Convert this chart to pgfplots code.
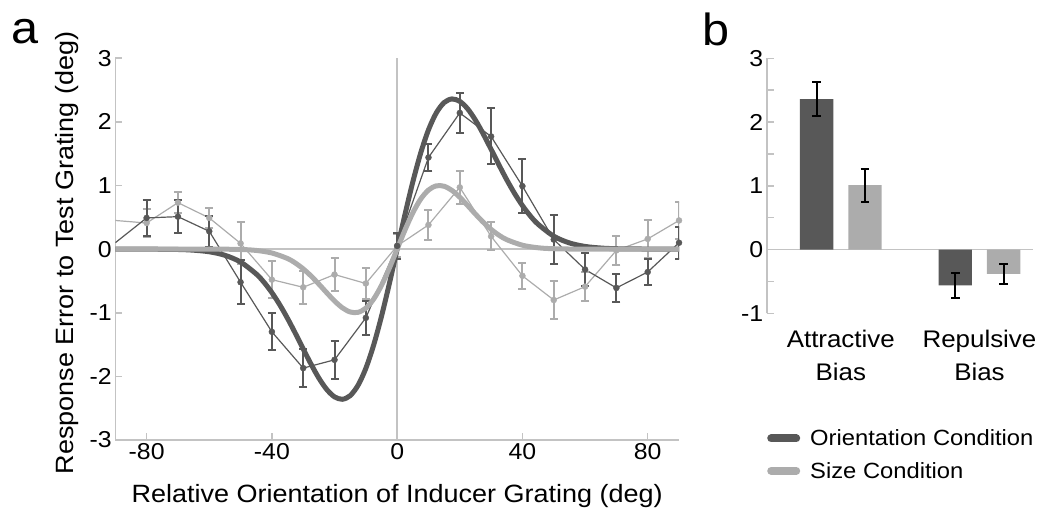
\documentclass[border=0pt]{standalone}
\usepackage{pgfplots}
\pgfplotsset{compat=1.18}
\usepackage{pgfplotstable}
\usepackage{fontspec}
\setmainfont{Liberation Sans}[FakeStretch=1.08]
\definecolor{ocol}{RGB}{88,88,88}
\definecolor{scol}{RGB}{172,172,172}
\definecolor{axgray}{RGB}{195,195,195}

% x = relative orientation (deg), y = response error (deg), e = s.e.m.
\pgfplotstableread{
x y e
-90 0.10 0.25
-80 0.49 0.28
-70 0.51 0.26
-60 0.28 0.24
-50 -0.52 0.35
-40 -1.30 0.29
-30 -1.87 0.30
-20 -1.74 0.30
-10 -1.08 0.27
0 0.05 0.21
10 1.44 0.21
20 2.14 0.31
30 1.77 0.44
40 0.99 0.42
50 0.15 0.38
60 -0.32 0.26
70 -0.61 0.22
80 -0.36 0.20
90 0.10 0.25
}\orient

\pgfplotstableread{
x y e
-90 0.45 0.29
-80 0.41 0.22
-70 0.73 0.17
-60 0.49 0.16
-50 0.09 0.33
-40 -0.48 0.29
-30 -0.60 0.26
-20 -0.40 0.26
-10 -0.54 0.24
0 0.05 0.18
10 0.38 0.24
20 0.97 0.26
30 0.20 0.22
40 -0.42 0.20
50 -0.80 0.30
60 -0.59 0.23
70 -0.02 0.23
80 0.16 0.30
90 0.45 0.29
}\size

\pgfplotsset{
  fnt/.style={font=\fontsize{23}{27}\selectfont},
  every axis/.append style={fnt, /pgf/number format/assume math mode=true},
}

\begin{document}
\begin{tikzpicture}[x=1pt,y=1pt]
\useasboundingbox (0,-508) rectangle (1039,0);

\node[font=\fontsize{45}{50}\selectfont] at (25,-32) {a};
\node[font=\fontsize{45}{50}\selectfont] at (716,-29) {b};

% panel a (also carries the shared legend, placed under panel b)
\begin{axis}[
    at={(115.3pt,-440pt)}, anchor=south west,
    scale only axis, width=563.7pt, height=381.8pt,
    xmin=-90, xmax=90, ymin=-3, ymax=3,
    axis lines=left,
    axis line style={-, draw=axgray, line width=1.6pt},
    tick align=inside, major tick length=7pt,
    tick style={draw=axgray, line width=1.6pt},
    xtick={-80,-40,0,40,80}, ytick={-3,-2,-1,0,1,2,3},
    xlabel={Relative Orientation of Inducer Grating (deg)},
    ylabel={Response Error to Test Grating (deg)},
    label style={font=\fontsize{25}{29}\selectfont},
    xlabel style={at={(axis description cs:0.5,-0.165)}, anchor=base},
    ylabel style={at={(axis description cs:-0.075,0.49)}, anchor=base},
    legend style={at={(axis description cs:1.1508,0.038)}, anchor=north west,
      draw=none, fill=none, font=\fontsize{22}{26}\selectfont, row sep=11pt},
    legend cell align=left,
    legend image code/.code={\draw[#1, line width=8pt, line cap=round] (4pt,0pt) -- (29pt,0pt);
      \path[draw=none, fill=none] (0pt,-4pt) rectangle (41pt,4pt);},
  ]
  \draw[axgray, line width=1.6pt] (axis cs:-90,0) -- (axis cs:90,0);
  \draw[axgray, line width=1.6pt] (axis cs:0,-3) -- (axis cs:0,3);

  \addplot[scol, line width=1.2pt, forget plot] table[x=x, y=y] {\size};
  \addplot[ocol, line width=1.2pt, forget plot] table[x=x, y=y] {\orient};
  \addplot[scol, draw=none, mark=*, mark size=3pt, skip coords between index={0}{1}, forget plot,
    error bars/.cd, y dir=both, y explicit,
    error bar style={scol, line width=2pt},
    error mark options={scol, rotate=90, mark size=4pt, line width=2pt}]
    table[x=x, y=y, y error=e] {\size};
  \addplot[ocol, draw=none, mark=*, mark size=3pt, skip coords between index={0}{1}, forget plot,
    error bars/.cd, y dir=both, y explicit,
    error bar style={ocol, line width=2pt},
    error mark options={ocol, rotate=90, mark size=4pt, line width=2pt}]
    table[x=x, y=y, y error=e] {\orient};

  % fitted derivative-of-Gaussian curves
  \addplot[ocol, line width=5pt, smooth, forget plot] coordinates {
    (-90,0) (-80,-0.001) (-70,-0.006) (-65,-0.017) (-60,-0.042) (-55,-0.097)
    (-50,-0.203) (-45,-0.391) (-42.5,-0.523) (-40,-0.684) (-37.5,-0.874)
    (-35,-1.089) (-32.5,-1.324) (-30,-1.568) (-27.5,-1.808) (-25,-2.027)
    (-22.5,-2.205) (-20,-2.322) (-17.5,-2.360) (-15,-2.303) (-12.5,-2.141)
    (-10,-1.874) (-7.5,-1.507) (-5,-1.056) (-2.5,-0.544) (0,0)
    (2.5,0.544) (5,1.056) (7.5,1.507) (10,1.874) (12.5,2.141) (15,2.303)
    (17.5,2.360) (20,2.322) (22.5,2.205) (25,2.027) (27.5,1.808) (30,1.568)
    (32.5,1.324) (35,1.089) (37.5,0.874) (40,0.684) (42.5,0.523) (45,0.391)
    (50,0.203) (55,0.097) (60,0.042) (65,0.017) (70,0.006) (80,0.001) (90,0)};
  \addplot[scol, line width=5pt, smooth, forget plot] coordinates {
    (-90,0) (-60,0) (-50,-0.006) (-45,-0.021) (-40,-0.061) (-35,-0.148)
    (-32.5,-0.219) (-30,-0.310) (-27.5,-0.422) (-25,-0.550) (-22.5,-0.685)
    (-20,-0.815) (-17.5,-0.922) (-15,-0.988) (-12.5,-0.994) (-10,-0.928)
    (-7.5,-0.785) (-5,-0.570) (-2.5,-0.300) (0,0)
    (2.5,0.300) (5,0.570) (7.5,0.785) (10,0.928) (12.5,0.994) (15,0.988)
    (17.5,0.922) (20,0.815) (22.5,0.685) (25,0.550) (27.5,0.422) (30,0.310)
    (32.5,0.219) (35,0.148) (40,0.061) (45,0.021) (50,0.006) (60,0) (90,0)};

  \addlegendimage{ocol}
  \addlegendentry{Orientation Condition}
  \addlegendimage{scol}
  \addlegendentry{Size Condition}
\end{axis}

% panel b
\begin{axis}[
    at={(766.7pt,-313.3pt)}, anchor=south west,
    scale only axis, width=266.3pt, height=255pt,
    xmin=0.466, xmax=2.386, ymin=-1, ymax=3,
    ybar=15pt, bar width=33.3pt,
    axis y line=left, axis x line=bottom,
    axis line style={-}, y axis line style={draw=axgray, line width=1.6pt},
    x axis line style={draw=none},
    xtick={1,2}, xticklabels={Attractive\\Bias, Repulsive\\Bias},
    xticklabel style={align=center, font=\fontsize{24}{33}\selectfont, yshift=-13pt},
    xtick style={draw=none},
    ytick={-1,0,1,2,3}, minor ytick={-0.5,0.5,1.5,2.5},
    tick align=inside, major tick length=7pt, minor tick length=7pt,
    ytick style={draw=axgray, line width=1.6pt},
    error bars/error bar style={black, line width=2pt},
    error bars/error mark options={black, rotate=90, mark size=4.2pt, line width=2pt},
  ]
  \draw[axgray, line width=1.6pt] (axis cs:0.466,0) -- (axis cs:2.386,0);
  \addplot[fill=ocol, draw=none, error bars/.cd, y dir=both, y explicit]
    coordinates {(1,2.36) +- (0,0.27) (2,-0.56) +- (0,0.20)};
  \addplot[fill=scol, draw=none, error bars/.cd, y dir=both, y explicit]
    coordinates {(1,1.01) +- (0,0.26) (2,-0.38) +- (0,0.16)};
\end{axis}
\end{tikzpicture}
\end{document}
